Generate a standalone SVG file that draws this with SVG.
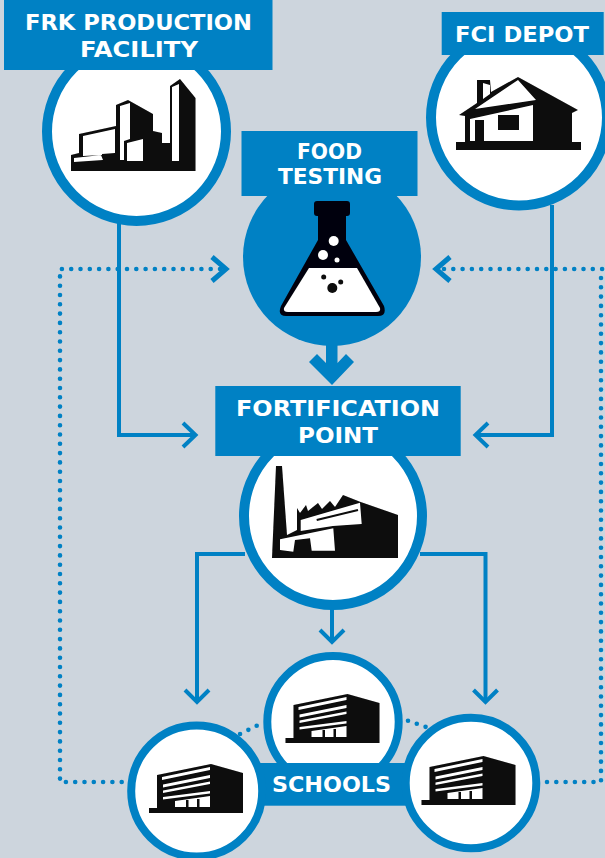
<svg xmlns="http://www.w3.org/2000/svg" xmlns:xlink="http://www.w3.org/1999/xlink" width="605" height="858" viewBox="0 0 605 858">
<style>
.ring{fill:#fff;stroke:#0081c4;stroke-width:10}
.ring2{fill:#fff;stroke:#0081c4;stroke-width:8}
.box{fill:#0081c4}
.t{font-family:"DejaVu Sans","Liberation Sans",sans-serif;font-weight:700;font-size:22px;fill:#fff;text-anchor:middle}
.ln{fill:none;stroke:#0081c4;stroke-width:4;stroke-linejoin:miter}
.hd{fill:none;stroke:#0081c4;stroke-width:5}
.dot{fill:none;stroke:#0081c4;stroke-width:4.600;stroke-linecap:round;stroke-dasharray:0 9.300}
.k{fill:#0a0a0a}
.w{fill:#fff}
.soft{filter:url(#soft)}
</style>
<defs>
<filter id="soft" x="-5%" y="-5%" width="110%" height="110%"><feGaussianBlur stdDeviation="0.500"/></filter>
<g id="school" class="soft">
<path class="k" d="M149,813V808H157V775L211,764L243,773V813Z"/>
<path class="w" d="M162,777L210,767V770L162,780ZM163,784.500L210,775V778L163,787.500ZM163,790.500L210,781.500V784L163,793ZM163,797L210,791V793.500L163,799.500ZM175,801L210,796V807H175Z"/>
<path class="k" d="M186,800H188.500V807H186ZM197,799H199.500V807H197Z"/>
</g>
</defs>
<rect width="605" height="858" fill="#cdd5dd"/>
<g id="connectors">
<path class="ln" d="M119,220V435H194"/>
<path class="ln" d="M183,423L195.500,435L183,447"/>
<path class="ln" d="M552,205V435H477"/>
<path class="ln" d="M488,423L475.500,435L488,447"/>
<path class="ln" d="M245,554H197V702"/>
<path class="ln" d="M185,690L197,702L209,690"/>
<path class="ln" d="M420,554H485.500V702"/>
<path class="ln" d="M473.500,690L485.500,702L497.500,690"/>
<path class="ln" d="M332,605V641"/>
<path class="ln" d="M320,630L332,642L344,630"/>
<path class="box" d="M326,340H337.500V363L346,354L354,362L332,385L309,362L317,354L326,363Z"/>
<path class="dot" d="M220,269H60V782H130"/>
<path class="hd" d="M212,257L226,269L212,281"/>
<path class="dot" d="M444,269H605M601,278V782H540"/>
<path class="hd" d="M450,257L436,269L450,281"/>
<path class="dot" d="M256.700,725.700L238,735"/>
<path class="dot" d="M408,720.700L426,727"/>
</g>
<g id="frk-production-facility">
<circle class="ring" cx="136.500" cy="131.500" r="89.500"/>
<g class="soft">
<path class="k" d="M71,171V155L79,153V134L116,126V105L128,100L153,114V131L162,133V143L170,143V86L180,79L195.500,98V171Z"/>
<path class="w" d="M172,87L179,84V161H172ZM120,106L130,103V139L124,141V160H120ZM127,143L143,139V161H127ZM83,136L115,129V153L102,154V155L83,156ZM74,158L101,155L103,160L74,162Z"/>
</g>
<rect class="box" x="4" y="0" width="268.500" height="70"/>
<text class="t" x="138.500" y="30" textLength="227" lengthAdjust="spacingAndGlyphs">FRK PRODUCTION</text>
<text class="t" x="139" y="57" textLength="118" lengthAdjust="spacingAndGlyphs">FACILITY</text>
</g>
<g id="fci-depot">
<circle class="ring" cx="519" cy="117.500" r="88"/>
<g class="soft">
<path class="k" d="M456,150V142H465V116L459,115L477,103V80H490L491,92L518,77L578,110L572,113V142H581V150Z"/>
<path class="w" d="M483,83L490,85V94L483,99ZM475,109L518,80L536,100ZM470,119L533,105V141H484V120H475V141H470Z"/>
<path class="k" d="M498,115H519V130H498Z"/>
</g>
<rect class="box" x="441.700" y="12" width="162" height="43"/>
<text class="t" x="522" y="42" textLength="134" lengthAdjust="spacingAndGlyphs">FCI DEPOT</text>
</g>
<g id="food-testing">
<circle class="box" cx="332" cy="257" r="89"/>
<g class="soft">
<path fill="#02050c" d="M317,201H347Q350,201 350,204V213Q350,216 347,216H346V240L384,306Q387,316 378,316H286Q277,316 281,306L318,240V216H317Q314,216 314,213V204Q314,201 317,201Z"/>
<path class="w" d="M309,268H357L380,308Q381,312 376,312H288Q283,312 284,308Z"/>
<circle class="w" cx="333.700" cy="241" r="5"/>
<circle class="w" cx="323" cy="255" r="5"/>
<circle class="w" cx="337" cy="260" r="2.500"/>
<circle class="k" cx="323.700" cy="277" r="2.500"/>
<circle class="k" cx="332.300" cy="288" r="5"/>
<circle class="k" cx="340.700" cy="282" r="2.500"/>
</g>
<rect class="box" x="241.500" y="131" width="176" height="65"/>
<text class="t" style="font-size:20.500px" x="329.500" y="159" textLength="65" lengthAdjust="spacingAndGlyphs">FOOD</text>
<text class="t" style="font-size:20.500px" x="330" y="184" textLength="104" lengthAdjust="spacingAndGlyphs">TESTING</text>
</g>
<g id="fortification-point">
<circle class="ring" cx="333" cy="516" r="89"/>
<g class="soft">
<path class="k" d="M272,558L276,466H282L287,535L297,530V508L300,513L306,505L308,511L318,503L322,509L330,501L335,507L343,495L360,501.700L398,515V558Z"/>
<path class="w" d="M300.700,520L360,502.700L361.700,524L333,526L300.700,531ZM280,539.300L333.300,528.300L335,550.700H311.700L310,538.300L295,540L293.300,551.700L280,550Z"/>
<path d="M316.700,520L358,510" fill="none" stroke="#0a0a0a" stroke-width="2"/>
</g>
<rect class="box" x="215.300" y="386" width="245.400" height="70"/>
<text class="t" x="338" y="415.500" textLength="204" lengthAdjust="spacingAndGlyphs">FORTIFICATION</text>
<text class="t" x="338" y="442.500" textLength="80" lengthAdjust="spacingAndGlyphs">POINT</text>
</g>
<g id="school-top">
<circle class="ring2" cx="333" cy="721.700" r="65.700"/>
<use xlink:href="#school" href="#school" x="136.500" y="-70"/>
</g>
<g id="schools-label">
<rect class="box" x="255" y="763" width="155" height="42.700"/>
<text class="t" x="331.500" y="792" textLength="119" lengthAdjust="spacingAndGlyphs">SCHOOLS</text>
</g>
<g id="school-left">
<circle class="ring2" cx="196.700" cy="791" r="65.500"/>
<use xlink:href="#school" href="#school"/>
</g>
<g id="school-right">
<circle class="ring2" cx="471" cy="783" r="65.300"/>
<use xlink:href="#school" href="#school" x="272.500" y="-8"/>
</g>
</svg>
